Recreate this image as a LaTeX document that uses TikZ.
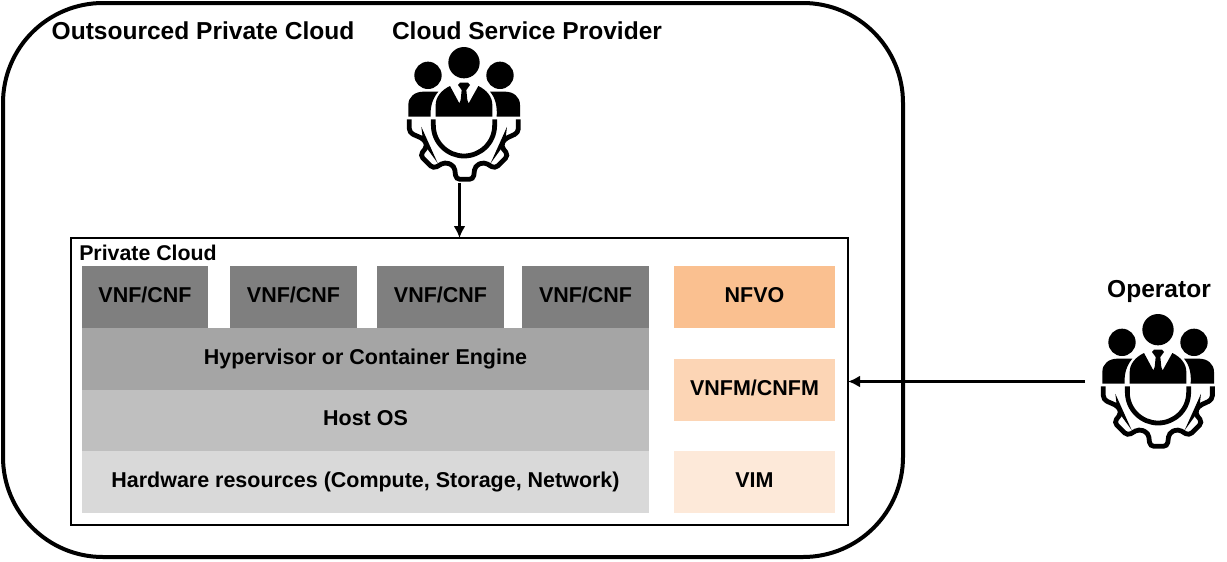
\documentclass[tikz,border=0pt]{standalone}
\usepackage{fontspec}
\setmainfont{Liberation Sans}
\usetikzlibrary{arrows.meta}
\definecolor{c1}{HTML}{7F7F7F}
\definecolor{c2}{HTML}{A5A5A5}
\definecolor{c3}{HTML}{BFBFBF}
\definecolor{c4}{HTML}{D9D9D9}
\definecolor{o1}{HTML}{FAC090}
\definecolor{o2}{HTML}{FCD5B5}
\definecolor{o3}{HTML}{FDE9D9}
\tikzset{
  x=0.75pt,y=-0.75pt,
  lbl/.style={font=\bfseries\fontsize{16.1}{18}\selectfont,text=black,inner sep=0pt,anchor=base},
  big/.style={font=\bfseries\fontsize{18.4}{20}\selectfont,text=black,inner sep=0pt,anchor=base},
  small/.style={font=\bfseries\fontsize{16}{17}\selectfont,text=black,inner sep=0pt,anchor=base west},
  arr/.style={line width=1.7pt,-{Latex[length=9pt,width=9pt]}},
  people/.pic={
    \begin{scope}[x=0.25pt,y=-0.25pt]
    \fill[black] (222,68) circle (47);
    \fill[black] (114,106) circle (41);
    \fill[black] (330,106) circle (41);
    \fill[black] (55,230) -- (55,195) .. controls (55,170) and (75,155) .. (100,155) -- (145,155)
      .. controls (128,175) and (120,200) .. (122,230) -- cycle;
    \fill[black] (390,230) -- (390,195) .. controls (390,170) and (370,155) .. (345,155) -- (300,155)
      .. controls (317,175) and (322,200) .. (320,230) -- cycle;
    \fill[black] (137,230) -- (137,195) .. controls (137,170) and (155,150) .. (180,138)
      -- (208,190) -- (212,180) -- (215,150) -- (204,135) -- (210,128) -- (234,128) -- (240,135) -- (229,150) -- (232,180) -- (236,190)
      -- (265,138) .. controls (290,150) and (307,170) .. (307,195) -- (307,230) -- cycle;
    \draw[black,line width=3.6pt,rounded corners=3pt]
      (58,238) -- (58,278) -- (103,298) -- (112,318) -- (90,346) -- (130,386) -- (165,366)
      -- (193,378) -- (198,418) -- (250,418) -- (255,378) -- (282,366) -- (315,386) -- (355,346)
      -- (333,318) -- (342,298) -- (385,278) -- (385,238);
    \draw[black,line width=3.6pt] (130,238) -- (130,255) .. controls (130,310) and (175,348) .. (222,348)
      .. controls (270,348) and (314,310) .. (314,255) -- (314,238);
    \end{scope}
  }
}
\begin{document}
\begin{tikzpicture}
\useasboundingbox (0,0) rectangle (1227,561);
\node[draw=black,line width=3pt,rounded corners=75pt,minimum width=675pt,minimum height=415.5pt,inner sep=0pt,outer sep=0pt] (outer) at (453,280) {};
\node[draw=black,line width=2.2pt,minimum width=582.75pt,minimum height=215.25pt,inner sep=0pt,outer sep=0pt] (pc) at (459.5,381.5) {};
\node[big] (t1) at (203,39) {Outsourced Private Cloud};
\node[big] (t2) at (527,39) {Cloud Service Provider};
\node[big] (t3) at (1159,297) {Operator};
\node[small] (t4) at (79,260) {Private Cloud};
\foreach \n/\a/\b/\t/\bb/\c/\tx in {
 v1/82/208/266/328/c1/VNF\slash CNF,
 v2/230/357/266/328/c1/VNF\slash CNF,
 v3/377/504/266/328/c1/VNF\slash CNF,
 v4/522/649/266/328/c1/VNF\slash CNF,
 hv/82/649/328/390/c2/Hypervisor or Container Engine,
 os/82/649/390/451/c3/Host OS,
 hw/82/649/451/513/c4/{Hardware resources (Compute, Storage, Network)},
 nf/674/835/266/328/o1/NFVO,
 vm/674/835/359/421/o2/VNFM\slash CNFM,
 vi/674/835/451/513/o3/VIM}{
  \path[fill=\c] (\a,\t) rectangle (\b,\bb);
  \node[lbl] (\n) at ({(\a+\b)/2},{(\t+\bb)/2+5}) {\tx};
}
\pic at (390,40) {people};
\pic at (1084,307) {people};
\coordinate (cspout) at (459.5,183);
\coordinate (opout) at (1085,381.5);
\draw[arr] (cspout) -- (pc.north);
\draw[arr] (opout) -- (pc.east);
\end{tikzpicture}
\end{document}
